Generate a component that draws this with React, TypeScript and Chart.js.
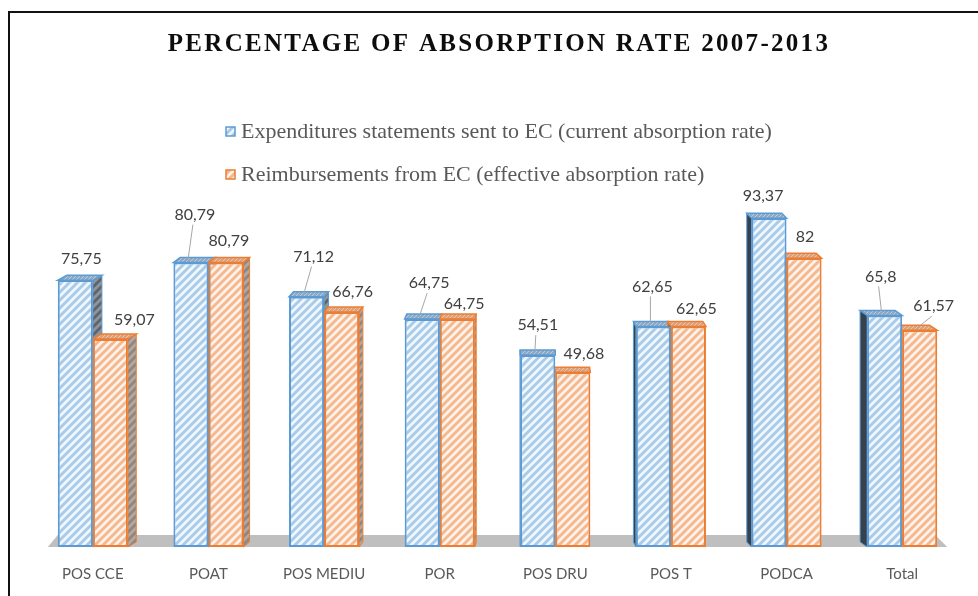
import React, { useEffect, useRef } from 'react';
import { Chart, registerables } from 'chart.js';

Chart.register(...registerables);

const chartTitle = 'PERCENTAGE OF ABSORPTION RATE 2007-2013';
const categories = ['POS CCE', 'POAT', 'POS MEDIU', 'POR', 'POS DRU', 'POS T', 'PODCA', 'Total'];
const seriesNames = [
  'Expenditures statements sent to EC (current absorption rate)',
  'Reimbursements from EC (effective absorption rate)',
];
const currentRate = [75.75, 80.79, 71.12, 64.75, 54.51, 62.65, 93.37, 65.8];
const effectiveRate = [59.07, 80.79, 66.76, 64.75, 49.68, 62.65, 82, 61.57];
const yMin = 0;
const yMax = 100;

// label nudges in px, relative to the top-centre of each bar
const currentLabelNudge = [[6, -22], [4, -48], [7, -40], [7, -36], [0, -30], [-1, -40], [-6, -22], [-4, -39]];
const effectiveLabelNudge = [[24, -19], [3, -22], [11, -20], [7, -15], [11, -18], [8, -18], [1, -22], [14, -24]];

function makeHatch(bg: string, stripe: string, size = 8, lw = 3): CanvasPattern {
  const c = document.createElement('canvas');
  c.width = size;
  c.height = size;
  const g = c.getContext('2d')!;
  g.fillStyle = bg;
  g.fillRect(0, 0, size, size);
  g.strokeStyle = stripe;
  g.lineWidth = lw;
  g.beginPath();
  g.moveTo(-size / 2, size / 2);
  g.lineTo(size / 2, -size / 2);
  g.moveTo(0, size);
  g.lineTo(size, 0);
  g.moveTo(size / 2, size * 1.5);
  g.lineTo(size * 1.5, size / 2);
  g.stroke();
  return g.createPattern(c, 'repeat')!;
}

const fmt = (v: number) => String(v).replace('.', ',');

export default function App() {
  const ref = useRef<HTMLCanvasElement>(null);

  useEffect(() => {
    document.body.style.margin = '0';
    const canvas = ref.current!;

    const blueFill = makeHatch('#f2f7fc', '#a9cbea');
    const orangeFill = makeHatch('#fdf3ec', '#f5b98f');
    const blueSideRight = makeHatch('#5d646c', '#8d949b');
    const orangeSideRight = makeHatch('#8e8680', '#b3a79f');
    const blueTop = makeHatch('#8fa9c2', '#b8cce0', 4, 1);
    const orangeTop = makeHatch('#d9a27f', '#eec2a5', 4, 1);

    const styles = [
      { border: '#5b9bd5', fill: blueFill, sideR: blueSideRight, sideL: '#36414c', top: blueTop },
      { border: '#ed7d31', fill: orangeFill, sideR: orangeSideRight, sideL: '#7a6a60', top: orangeTop },
    ];
    const nudges = [currentLabelNudge, effectiveLabelNudge];

    const framePlugin = {
      id: 'frame',
      afterDraw(chart: any) {
        const ctx = chart.ctx as CanvasRenderingContext2D;
        ctx.save();
        ctx.strokeStyle = '#111';
        ctx.lineWidth = 2;
        ctx.beginPath();
        ctx.moveTo(9, chart.height);
        ctx.lineTo(9, 12);
        ctx.lineTo(chart.width, 12);
        ctx.stroke();

        // title
        ctx.fillStyle = '#0d0d0d';
        ctx.font = 'bold 25px "Liberation Serif", "DejaVu Serif", serif';
        (ctx as any).letterSpacing = '2.3px';
        ctx.textAlign = 'center';
        ctx.textBaseline = 'middle';
        ctx.fillText(chartTitle, 499, 45);
        (ctx as any).letterSpacing = '0px';

        // legend
        const rows = [131, 174];
        ctx.font = '22px "Liberation Serif", serif';
        ctx.textAlign = 'left';
        seriesNames.forEach((name, i) => {
          const cy = rows[i];
          ctx.fillStyle = styles[i].fill;
          ctx.fillRect(226, cy - 4, 9, 9);
          ctx.strokeStyle = styles[i].border;
          ctx.lineWidth = 1.5;
          ctx.strokeRect(226, cy - 4, 9, 9);
          ctx.fillStyle = '#595959';
          ctx.fillText(name, 241, cy + 1);
        });
        ctx.restore();
      },
    };

    const depthPlugin = {
      id: 'depth',
      beforeDatasetsDraw(chart: any) {
        const ctx = chart.ctx as CanvasRenderingContext2D;
        const xs = chart.scales.x;
        const ys = chart.scales.y;
        const base = ys.getPixelForValue(0);
        const first = xs.getPixelForValue(0);
        const last = xs.getPixelForValue(categories.length - 1);
        ctx.save();
        ctx.fillStyle = '#bfbfbf';
        ctx.beginPath();
        ctx.moveTo(first - 35, base - 12);
        ctx.lineTo(last + 33, base - 12);
        ctx.lineTo(last + 45, base);
        ctx.lineTo(first - 45, base);
        ctx.closePath();
        ctx.fill();

        const vanish = (chart.chartArea.left + chart.chartArea.right) / 2 + 33;
        const dy = 5;
        chart.data.datasets.forEach((_: any, di: number) => {
          const meta = chart.getDatasetMeta(di);
          const st = styles[di];
          meta.data.forEach((el: any) => {
            const { x, y, base: b, width } = el.getProps(['x', 'y', 'base', 'width'], true);
            const left = x - width / 2;
            const right = x + width / 2;
            const dx = (vanish - x) * 0.02;
            const edge = dx > 0 ? right : left;
            // side face
            ctx.fillStyle = dx > 0 ? st.sideR : st.sideL;
            ctx.beginPath();
            ctx.moveTo(edge, y);
            ctx.lineTo(edge + dx, y - dy);
            ctx.lineTo(edge + dx, b - dy);
            ctx.lineTo(edge, b);
            ctx.closePath();
            ctx.fill();
            ctx.strokeStyle = st.border;
            ctx.lineWidth = 1;
            ctx.stroke();
            // top face
            ctx.fillStyle = st.top;
            ctx.beginPath();
            ctx.moveTo(left, y);
            ctx.lineTo(right, y);
            ctx.lineTo(right + dx, y - dy);
            ctx.lineTo(left + dx, y - dy);
            ctx.closePath();
            ctx.fill();
            ctx.strokeStyle = st.border;
            ctx.lineWidth = 1.5;
            ctx.stroke();
          });
        });
        ctx.restore();
      },
    };

    const labelPlugin = {
      id: 'valueLabels',
      afterDatasetsDraw(chart: any) {
        const ctx = chart.ctx as CanvasRenderingContext2D;
        ctx.save();
        ctx.font = '16px Lato, "Open Sans", sans-serif';
        ctx.textAlign = 'center';
        ctx.textBaseline = 'middle';
        chart.data.datasets.forEach((ds: any, di: number) => {
          const meta = chart.getDatasetMeta(di);
          meta.data.forEach((el: any, i: number) => {
            const { x, y } = el.getProps(['x', 'y'], true);
            const [ndx, ndy] = nudges[di][i];
            const lx = x + ndx;
            const ly = y + ndy;
            if (ndy < -23) {
              ctx.strokeStyle = '#a6a6a6';
              ctx.lineWidth = 1;
              ctx.beginPath();
              ctx.moveTo(lx - 2, ly + 10);
              ctx.lineTo(x - 3, y - 2);
              ctx.stroke();
            }
            ctx.fillStyle = '#404040';
            ctx.fillText(fmt(ds.data[i]), lx, ly);
          });
        });
        ctx.restore();
      },
    };

    const chart = new Chart(canvas, {
      type: 'bar',
      data: {
        labels: categories,
        datasets: [
          {
            label: seriesNames[0],
            data: currentRate,
            backgroundColor: styles[0].fill,
            borderColor: styles[0].border,
            borderWidth: 2,
            borderSkipped: false,
          },
          {
            label: seriesNames[1],
            data: effectiveRate,
            backgroundColor: styles[1].fill,
            borderColor: styles[1].border,
            borderWidth: 2,
            borderSkipped: false,
          },
        ],
      },
      options: {
        responsive: false,
        animation: false,
        layout: { padding: { top: 195, left: 35, right: 18, bottom: -5 } },
        datasets: { bar: { categoryPercentage: 0.606, barPercentage: 1 } },
        plugins: {
          legend: { display: false },
          title: { display: false },
          tooltip: { enabled: false },
        },
        scales: {
          x: {
            grid: { display: false, drawTicks: false },
            border: { display: false },
            ticks: {
              color: '#595959',
              font: { family: 'Lato, "Open Sans", sans-serif', size: 15 },
              padding: 18,
              maxRotation: 0,
            },
          },
          y: { display: false, min: yMin, max: yMax },
        },
      },
      plugins: [depthPlugin, labelPlugin, framePlugin],
    } as any);

    return () => chart.destroy();
  }, []);

  return <canvas ref={ref} width={978} height={596} style={{ display: 'block' }} />;
}
